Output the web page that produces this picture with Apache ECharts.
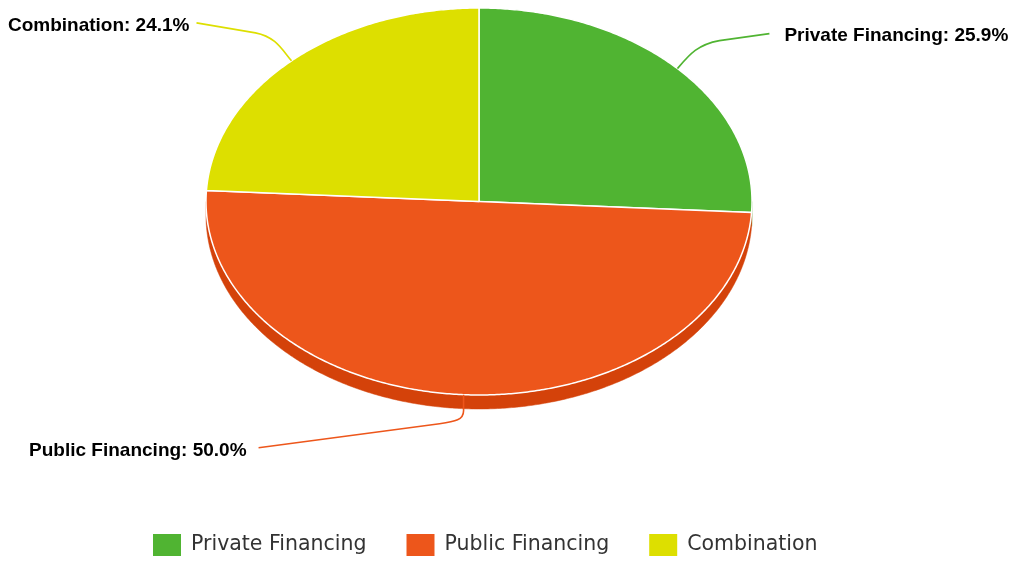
<!DOCTYPE html>
<html>
<head>
<meta charset="utf-8">
<script src="https://cdn.jsdelivr.net/npm/echarts@6/dist/echarts.min.js"></script>
<style>
  html, body { margin: 0; padding: 0; background: #ffffff; }
  #chart { width: 1013px; height: 561px; }
</style>
</head>
<body>
<div id="chart"></div>
<script>
// Financing sources (share of total, %)
const categories = ['Private Financing', 'Public Financing', 'Combination'];
const shares = [25.9, 50.0, 24.1];
const colors = ['#50B432', '#ED561B', '#DDDF00'];
const sideColors = ['#3F9A22', '#D4420A', '#BFC100'];

// Tilted-disc geometry
const CX = 479, CY = 201.5, RX = 273, RY = 193.5, DEPTH = 14;
const total = shares.reduce((s, v) => s + v, 0);

function pt(deg, dy) {
  const r = deg * Math.PI / 180;
  return [CX + RX * Math.sin(r), CY - RY * Math.cos(r) + (dy || 0)];
}
function arc(a, b, dy) {
  const pts = [];
  const n = Math.max(2, Math.ceil(Math.abs(b - a) / 0.5));
  for (let i = 0; i <= n; i++) pts.push(pt(a + (b - a) * i / n, dy));
  return pts;
}

// Leader line shapes, built from the anchor point on the slice rim
const connectors = [
  { // right side, upward
    path: A => `M${A[0]} ${A[1]} C${A[0] + 12} ${A[1] - 14} ${A[0] + 20} ${A[1] - 24} ${A[0] + 42} ${A[1] - 28} L${A[0] + 92} ${A[1] - 35}`,
    end: A => [A[0] + 92, A[1] - 35], dx: 15, dy: 2, align: 'left'
  },
  { // bottom, down then left
    path: A => `M${A[0]} ${A[1]} L${A[0]} ${A[1] + 16} C${A[0]} ${A[1] + 25} ${A[0] - 8} ${A[1] + 27} ${A[0] - 24} ${A[1] + 29} L${A[0] - 205} ${A[1] + 53}`,
    end: A => [A[0] - 205, A[1] + 53], dx: -12, dy: 3, align: 'right'
  },
  { // left side, upward
    path: A => `M${A[0]} ${A[1]} C${A[0] - 10} ${A[1] - 12} ${A[0] - 16} ${A[1] - 24} ${A[0] - 36} ${A[1] - 28} L${A[0] - 95} ${A[1] - 38}`,
    end: A => [A[0] - 95, A[1] - 38], dx: -7, dy: 3, align: 'right'
  }
];

function renderSlice(params, api) {
  const i = params.seriesIndex;
  const value = api.value(0);
  let before = 0;
  for (let k = 0; k < i; k++) before += shares[k];
  const a = before / total * 360;
  const b = (before + value) / total * 360;
  const children = [];

  // visible side wall (front half of the disc)
  const sa = Math.max(a, 90), sb = Math.min(b, 270);
  if (sb > sa) {
    const top = arc(sa, sb, 0);
    const bottom = arc(sb, sa, DEPTH);
    children.push({
      type: 'polygon', z2: 1,
      shape: { points: top.concat(bottom) },
      style: { fill: sideColors[i], stroke: sideColors[i], lineWidth: 0.5 }
    });
  }

  // top face
  children.push({
    type: 'polygon', z2: 2,
    shape: { points: [[CX, CY]].concat(arc(a, b, 0)) },
    style: { fill: colors[i], stroke: '#ffffff', lineWidth: 1.5, lineJoin: 'round' }
  });

  // leader line and label
  const mid = (a + b) / 2;
  const A = pt(mid, 0);
  const c = connectors[i];
  children.push({
    type: 'path', z2: 3,
    shape: { pathData: c.path(A) },
    style: { fill: null, stroke: colors[i], lineWidth: 1.6 }
  });
  const E = c.end(A);
  children.push({
    type: 'text', z2: 4,
    style: {
      x: E[0] + c.dx, y: E[1] + c.dy,
      text: categories[i] + ': ' + value.toFixed(1) + '%',
      fill: '#000000',
      font: 'bold 19px "Liberation Sans", Arial, sans-serif',
      align: c.align, verticalAlign: 'middle'
    }
  });
  return { type: 'group', children };
}

const chart = echarts.init(document.getElementById('chart'));
chart.setOption({
  animation: false,
  backgroundColor: '#ffffff',
  legend: {
    data: categories,
    top: 534,
    left: 153,
    padding: 0,
    icon: 'rect',
    itemWidth: 28,
    itemHeight: 22,
    itemGap: 40,
    selectedMode: false,
    textStyle: { fontSize: 20.5, color: '#333333', fontFamily: '"DejaVu Sans", sans-serif', padding: [3, 0, 0, 5] }
  },
  series: categories.map((name, i) => ({
    type: 'custom',
    name: name,
    coordinateSystem: 'none',
    itemStyle: { color: colors[i] },
    renderItem: renderSlice,
    data: [[shares[i]]],
    silent: true
  }))
});
</script>
</body>
</html>
